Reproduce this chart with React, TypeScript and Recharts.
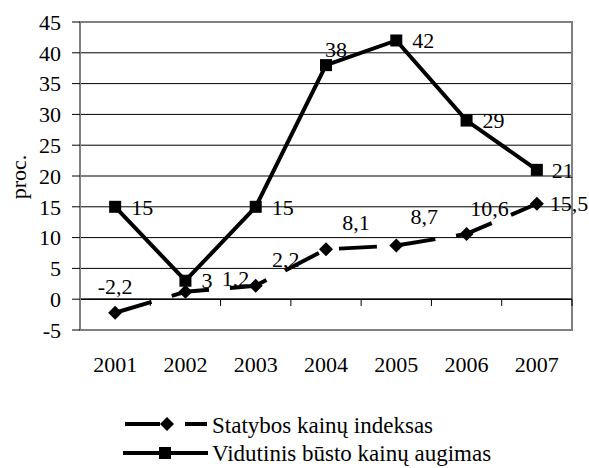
import React from 'react';
import {
  LineChart,
  Line,
  XAxis,
  YAxis,
  CartesianGrid,
  ReferenceLine,
  ReferenceArea,
  LabelList,
} from 'recharts';

// ---- data ----
const years = ['2001', '2002', '2003', '2004', '2005', '2006', '2007'];
const statybos = [-2.2, 1.2, 2.2, 8.1, 8.7, 10.6, 15.5];
const vidutinis = [15, 3, 15, 38, 42, 29, 21];
const yTicks = [-5, 0, 5, 10, 15, 20, 25, 30, 35, 40, 45];
const seriesNames = ['Statybos kainų indeksas', 'Vidutinis būsto kainų augimas'];
const yLabel = 'proc.';

// ---- layout (label offsets relative to points) ----
const statybosLabelOffsets: [number, number, string][] = [
  [0, -26, 'middle'],
  [50, -14, 'middle'],
  [30, -26, 'middle'],
  [30, -27, 'middle'],
  [28, -29, 'middle'],
  [23, -26, 'middle'],
  [13, 0, 'start'],
];
const vidutinisLabelOffsets: [number, number, string][] = [
  [16, 0, 'start'],
  [16, 0, 'start'],
  [16, 0, 'start'],
  [10, -16, 'middle'],
  [16, 0, 'start'],
  [16, 0, 'start'],
  [15, 0, 'start'],
];

const data = years.map((y, i) => ({
  pos: i + 0.5,
  year: y,
  statybos: statybos[i],
  vidutinis: vidutinis[i],
}));
const xTicks = years.map((_, i) => i + 0.5);
const boundaries = years.map((_, i) => i + 1);

const FONT = '"Liberation Serif", "Times New Roman", serif';
const FS = 22;
const LFS = 23;
const GRAY = '#808080';

const fmt = (v: number) => String(v).replace('.', ',');

const makeLabel = (offsets: [number, number, string][]) => (props: any) => {
  const x = props.x ?? props.viewBox?.x;
  const y = props.y ?? props.viewBox?.y;
  const [dx, dy, anchor] = offsets[props.index];
  return (
    <text
      x={x + dx}
      y={y + dy}
      dy="0.35em"
      textAnchor={anchor as any}
      fontFamily={FONT}
      fontSize={FS}
      fill="#000"
    >
      {fmt(props.value)}
    </text>
  );
};

const Diamond = (props: any) => {
  const { cx, cy } = props;
  const r = 7;
  return (
    <polygon
      points={`${cx},${cy - r} ${cx + r},${cy} ${cx},${cy + r} ${cx - r},${cy}`}
      fill="#000"
    />
  );
};

const Square = (props: any) => {
  const { cx, cy } = props;
  const s = 12;
  return <rect x={cx - s / 2} y={cy - s / 2} width={s} height={s} fill="#000" />;
};

const YLabel = () => (
  <text
    x={18}
    y={177}
    transform="rotate(-90 18 177)"
    textAnchor="middle"
    dy="0.35em"
    fontFamily={FONT}
    fontSize={FS}
    fill="#000"
  >
    {yLabel}
  </text>
);

export default function App() {
  return (
    <div style={{ position: 'absolute', left: 0, top: 0, width: 589, height: 468, background: '#fff' }}>
      <LineChart
        width={589}
        height={468}
        data={data}
        margin={{ top: 22, right: 17, left: 0, bottom: 0 }}
      >
        <CartesianGrid horizontal vertical={false} stroke="#000" strokeWidth={1} />
        <XAxis
          type="number"
          dataKey="pos"
          domain={[0, 7]}
          ticks={xTicks}
          tickFormatter={(v: number) => years[Math.floor(v)]}
          axisLine={{ stroke: GRAY, strokeWidth: 2 }}
          tickLine={false}
          tickSize={0}
          tickMargin={26}
          height={138}
          tick={{ fontFamily: FONT, fontSize: FS, fill: '#000' }}
          interval={0}
        />
        <YAxis
          domain={[-5, 45]}
          ticks={yTicks}
          width={80}
          axisLine={{ stroke: GRAY, strokeWidth: 2 }}
          tickLine={{ stroke: '#000' }}
          tickSize={8}
          tickMargin={11}
          tick={{ fontFamily: FONT, fontSize: FS, fill: '#000' }}
          interval={0}
          label={YLabel}
        />
        <ReferenceArea
          x1={0}
          x2={7}
          y1={-5}
          y2={45}
          fill="none"
          fillOpacity={0}
          stroke={GRAY}
          strokeWidth={2}
          ifOverflow="visible"
        />
        <ReferenceLine y={0} stroke="#000" strokeWidth={1.5} />
        {boundaries.map((b) => (
          <ReferenceLine
            key={b}
            segment={[
              { x: b, y: 0 },
              { x: b, y: -1.1 },
            ]}
            stroke="#000"
            strokeWidth={1}
            ifOverflow="visible"
          />
        ))}
        <Line
          type="linear"
          dataKey="statybos"
          name={seriesNames[0]}
          stroke="#000"
          strokeWidth={4}
          strokeDasharray="38 21"
          strokeLinecap="butt"
          dot={Diamond}
          activeDot={false}
          isAnimationActive={false}
        >
          <LabelList dataKey="statybos" content={makeLabel(statybosLabelOffsets)} />
        </Line>
        <Line
          type="linear"
          dataKey="vidutinis"
          name={seriesNames[1]}
          stroke="#000"
          strokeWidth={4}
          dot={Square}
          activeDot={false}
          isAnimationActive={false}
        >
          <LabelList dataKey="vidutinis" content={makeLabel(vidutinisLabelOffsets)} />
        </Line>
      </LineChart>
      <svg
        width={589}
        height={468}
        style={{ position: 'absolute', left: 0, top: 0, pointerEvents: 'none' }}
      >
        <g>
          <line x1={125} y1={424} x2={160} y2={424} stroke="#000" strokeWidth={4} />
          <polygon points="167,417 174,424 167,431 160,424" fill="#000" />
          <line x1={185} y1={424} x2={207} y2={424} stroke="#000" strokeWidth={4} />
          <text x={212} y={425} dy="0.35em" fontFamily={FONT} fontSize={LFS} fill="#000">
            {seriesNames[0]}
          </text>
        </g>
        <g>
          <line x1={123} y1={453} x2={208} y2={453} stroke="#000" strokeWidth={4} />
          <rect x={159} y={447} width={12} height={12} fill="#000" />
          <text x={212} y={453} dy="0.35em" fontFamily={FONT} fontSize={LFS} fill="#000">
            {seriesNames[1]}
          </text>
        </g>
      </svg>
    </div>
  );
}
